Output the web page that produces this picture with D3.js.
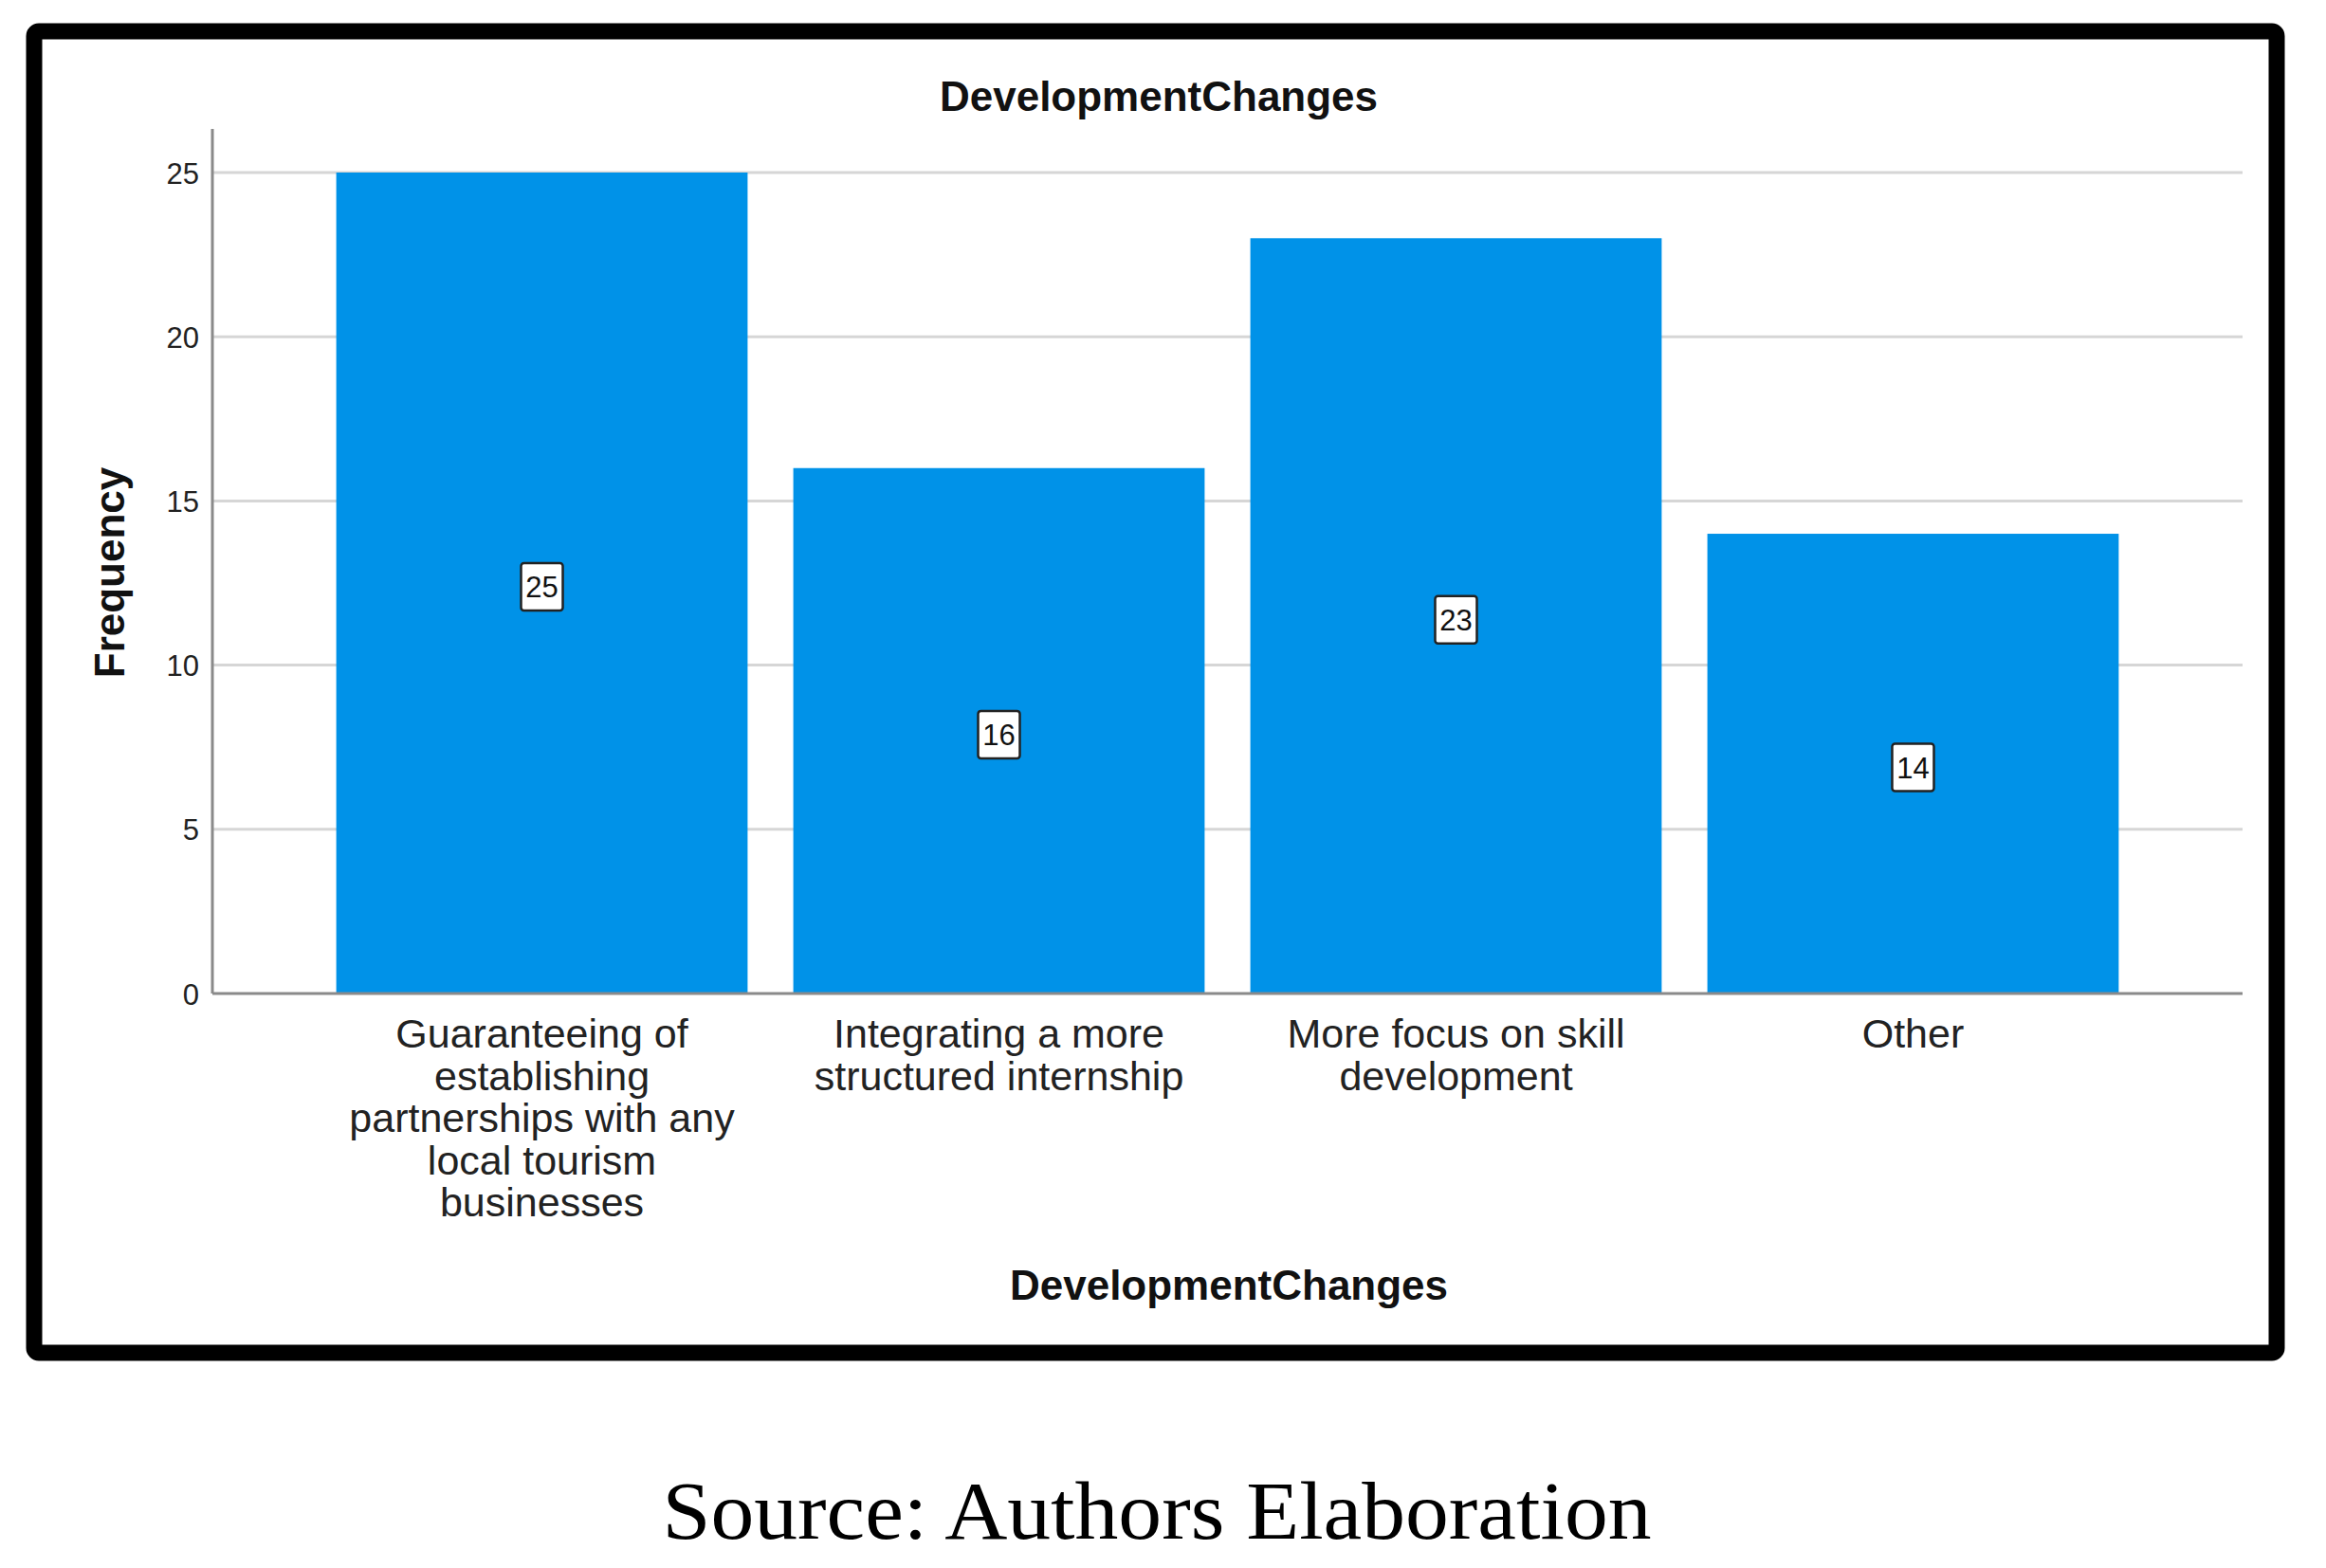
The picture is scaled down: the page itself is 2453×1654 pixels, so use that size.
<!DOCTYPE html>
<html>
<head>
<meta charset="utf-8">
<script src="https://cdn.jsdelivr.net/npm/d3@7/dist/d3.min.js"></script>
<style>
  html, body { margin: 0; padding: 0; background: #fff; }
  svg { display: block; }
  .tick-label { font-family: "Liberation Sans", Arial, sans-serif; font-size: 31px; fill: #222; }
  .cat-label { font-family: "Liberation Sans", Arial, sans-serif; font-size: 43px; fill: #222; }
  .axis-title { font-family: "Liberation Sans", Arial, sans-serif; font-size: 44px; font-weight: bold; fill: #111; }
  .bar-label { font-family: "Liberation Sans", Arial, sans-serif; font-size: 31px; fill: #111; }
  .source { font-family: "Liberation Serif", "DejaVu Serif", serif; font-size: 86px; fill: #000; }
</style>
</head>
<body>
<div id="chart"></div>
<script>
// values
var chartTitle = "DevelopmentChanges";
var xTitle = "DevelopmentChanges";
var yTitle = "Frequency";
var sourceNote = "Source: Authors Elaboration";

var categories = [
  ["Guaranteeing of", "establishing", "partnerships with any", "local tourism", "businesses"],
  ["Integrating a more", "structured internship"],
  ["More focus on skill", "development"],
  ["Other"]
];
var frequencies = [25, 16, 23, 14];
var yTicks = [0, 5, 10, 15, 20, 25];

var width = 2453,
  height = 1654,
  plot = { left: 224, right: 2365, top: 182, bottom: 1048, axisTop: 136 },
  barColor = "#0092e8",
  gridColor = "#d6d6d6",
  axisColor = "#8a8a8a";

var svg = d3.select("#chart").append("svg")
  .attr("width", width)
  .attr("height", height);

svg.append("rect")
  .attr("width", width)
  .attr("height", height)
  .attr("fill", "#fff");

// black frame around the chart
svg.append("rect")
  .attr("x", 36)
  .attr("y", 33)
  .attr("width", 2365)
  .attr("height", 1394)
  .attr("rx", 5)
  .attr("fill", "none")
  .attr("stroke", "#000")
  .attr("stroke-width", 17);

var keys = categories.map(function(d, i) { return i; });

var x = d3.scaleBand()
  .domain(keys)
  .range([plot.left, plot.right])
  .paddingInner(0.1)
  .paddingOuter(0.271);

var y = d3.scaleLinear()
  .domain([0, 25])
  .range([plot.bottom, plot.top]);

// gridlines
svg.selectAll(".grid")
  .data(yTicks.filter(function(d) { return d > 0; }))
  .enter().append("line")
    .attr("class", "grid")
    .attr("x1", plot.left)
    .attr("x2", plot.right)
    .attr("y1", function(d) { return y(d); })
    .attr("y2", function(d) { return y(d); })
    .attr("stroke", gridColor)
    .attr("stroke-width", 3);

// bars
svg.selectAll(".bar")
  .data(frequencies)
  .enter().append("rect")
    .attr("class", "bar")
    .attr("x", function(d, i) { return x(i); })
    .attr("y", function(d) { return y(d); })
    .attr("width", x.bandwidth())
    .attr("height", function(d) { return y(0) - y(d); })
    .attr("fill", barColor);

// axis lines
svg.append("line")
  .attr("x1", plot.left).attr("x2", plot.left)
  .attr("y1", plot.axisTop).attr("y2", plot.bottom)
  .attr("stroke", axisColor).attr("stroke-width", 3);

svg.append("line")
  .attr("x1", plot.left).attr("x2", plot.right)
  .attr("y1", plot.bottom).attr("y2", plot.bottom)
  .attr("stroke", axisColor).attr("stroke-width", 3);

// y tick labels
var yAxis = svg.append("g")
  .attr("transform", "translate(" + plot.left + ",0)")
  .call(d3.axisLeft(y).tickValues(yTicks).tickSize(0).tickPadding(14));
yAxis.select(".domain").remove();
yAxis.selectAll("text")
  .attr("class", "tick-label")
  .attr("font-family", null)
  .attr("font-size", null)
  .attr("dy", "0.36em");

// category labels, several lines each
var xAxis = svg.append("g")
  .attr("transform", "translate(0," + plot.bottom + ")")
  .call(d3.axisBottom(x).tickSize(0).tickFormat(""));
xAxis.select(".domain").remove();
xAxis.selectAll(".tick text").remove();
xAxis.selectAll(".tick").each(function(i) {
  var t = d3.select(this).append("text")
    .attr("class", "cat-label")
    .attr("text-anchor", "middle");
  categories[i].forEach(function(line, j) {
    t.append("tspan")
      .attr("x", 0)
      .attr("y", 57 + j * 44.5)
      .text(line);
  });
});

// value labels in small boxes at mid-bar
var labels = svg.selectAll(".bar-label-g")
  .data(frequencies)
  .enter().append("g")
    .attr("class", "bar-label-g")
    .attr("transform", function(d, i) {
      return "translate(" + (x(i) + x.bandwidth() / 2) + "," + (y(d / 2) + 4) + ")";
    });

labels.append("rect")
  .attr("x", -22)
  .attr("y", -25)
  .attr("width", 44)
  .attr("height", 50)
  .attr("rx", 3)
  .attr("fill", "#fff")
  .attr("stroke", "#222")
  .attr("stroke-width", 2.5);

labels.append("text")
  .attr("class", "bar-label")
  .attr("text-anchor", "middle")
  .attr("dy", "0.36em")
  .text(function(d) { return d; });

// titles
svg.append("text")
  .attr("class", "axis-title")
  .attr("x", 1222)
  .attr("y", 117)
  .attr("text-anchor", "middle")
  .text(chartTitle);

svg.append("text")
  .attr("class", "axis-title")
  .attr("x", 1296)
  .attr("y", 1371)
  .attr("text-anchor", "middle")
  .text(xTitle);

svg.append("text")
  .attr("class", "axis-title")
  .attr("font-size", "39px")
  .attr("text-anchor", "middle")
  .attr("transform", "translate(131,604) rotate(-90)")
  .text(yTitle);

svg.append("text")
  .attr("class", "source")
  .attr("x", 1220)
  .attr("y", 1623)
  .attr("text-anchor", "middle")
  .attr("textLength", 1043)
  .attr("lengthAdjust", "spacingAndGlyphs")
  .text(sourceNote);
</script>
</body>
</html>
